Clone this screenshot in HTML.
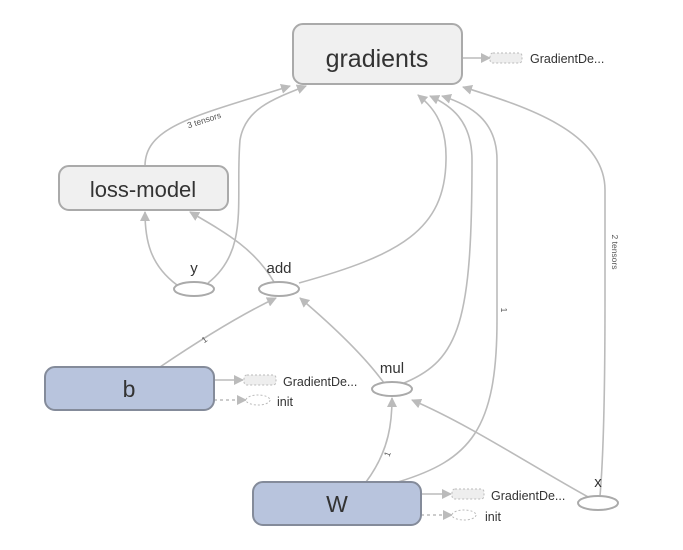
<!DOCTYPE html>
<html><head><meta charset="utf-8"><style>
body{margin:0;background:#fff;}
svg{display:block;font-family:"Liberation Sans",sans-serif;}
</style></head><body>
<svg width="683" height="550" viewBox="0 0 683 550">
<defs>
<marker id="a2" viewBox="0 0 10 10" refX="9" refY="5" markerWidth="10" markerHeight="10" orient="auto" markerUnits="userSpaceOnUse"><path d="M0,0 L10,5 L0,10 z" fill="#bbb"/></marker>
</defs>
<g fill="none" stroke="#bbb" stroke-width="1.6" marker-end="url(#a2)">
<path d="M145,166 C145,125 200,115 290,86"/>
<path d="M208,283 C250,250 235,200 240,140 C245,110 270,100 306,86"/>
<path d="M177,285 C150,265 145,240 145,212"/>
<path d="M274,282 C255,250 230,235 190,212"/>
<path d="M299,283 C400,255 445,230 446,160 C447,120 430,105 418,95"/>
<path d="M160,367 C200,340 240,315 276,298"/>
<path d="M384,383 C360,350 320,315 300,298"/>
<path d="M404,383 C460,360 472,320 472,160 C472,120 450,105 430,96"/>
<path d="M366,482 C390,450 392,420 392,398"/>
<path d="M398,482 C470,460 497,430 497,320 L497,160 C497,120 470,105 442,96"/>
<path d="M590,498 C530,465 470,425 412,400"/>
<path d="M600,496 C604,450 605,380 605,300 L605,190 C605,130 520,105 463,87"/>
<path d="M462,58 L490,58"/>
<path d="M214,380 L243,380"/>
<path d="M421,494 L451,494"/>
<path d="M214,400 L246,400" stroke-dasharray="3,3"/>
<path d="M421,515 L452,515" stroke-dasharray="3,3"/>
</g>
<g font-size="8.5" fill="#555">
<text x="205" y="123" transform="rotate(-18 205 123)" text-anchor="middle">3 tensors</text>
<text transform="translate(612,252) rotate(90)" text-anchor="middle">2 tensors</text>
<text transform="translate(501,310) rotate(90)" text-anchor="middle">1</text>
<text transform="translate(206,342) rotate(-35)" text-anchor="middle">1</text>
<text transform="translate(390,455) rotate(-70)" text-anchor="middle">1</text>
</g>
<rect x="293" y="24" width="169" height="60" rx="10" fill="#f0f0f0" stroke="#aaa" stroke-width="2"/>
<text x="377" y="67" font-size="25" text-anchor="middle" fill="#333">gradients</text>
<rect x="59" y="166" width="169" height="44" rx="10" fill="#f0f0f0" stroke="#aaa" stroke-width="2"/>
<text x="143" y="197" font-size="22" text-anchor="middle" fill="#333">loss-model</text>
<rect x="45" y="367" width="169" height="43" rx="10" fill="#b8c4dd" stroke="#848b9a" stroke-width="2"/>
<text x="129" y="397" font-size="23" text-anchor="middle" fill="#333">b</text>
<rect x="253" y="482" width="168" height="43" rx="10" fill="#b8c4dd" stroke="#848b9a" stroke-width="2"/>
<text x="337" y="512" font-size="23" text-anchor="middle" fill="#333">W</text>
<g fill="#fff" stroke="#aaa" stroke-width="2">
<ellipse cx="194" cy="289" rx="20" ry="7"/>
<ellipse cx="279" cy="289" rx="20" ry="7"/>
<ellipse cx="392" cy="389" rx="20" ry="7"/>
<ellipse cx="598" cy="503" rx="20" ry="7"/>
</g>
<g font-size="15" fill="#333" text-anchor="middle">
<text x="194" y="273">y</text>
<text x="279" y="273">add</text>
<text x="392" y="373">mul</text>
<text x="598" y="487">x</text>
</g>
<g fill="#eee" stroke="#bbb" stroke-dasharray="2,2">
<rect x="490" y="53" width="32" height="10" rx="3"/>
<rect x="244" y="375" width="32" height="10" rx="3"/>
<rect x="452" y="489" width="32" height="10" rx="3"/>
<ellipse cx="258" cy="400" rx="12" ry="5" fill="#fff"/>
<ellipse cx="464" cy="515" rx="12" ry="5" fill="#fff"/>
</g>
<g font-size="12.5" fill="#333">
<text x="530" y="63">GradientDe...</text>
<text x="283" y="386">GradientDe...</text>
<text x="277" y="406">init</text>
<text x="491" y="500">GradientDe...</text>
<text x="485" y="521">init</text>
</g>
</svg>
</body></html>
